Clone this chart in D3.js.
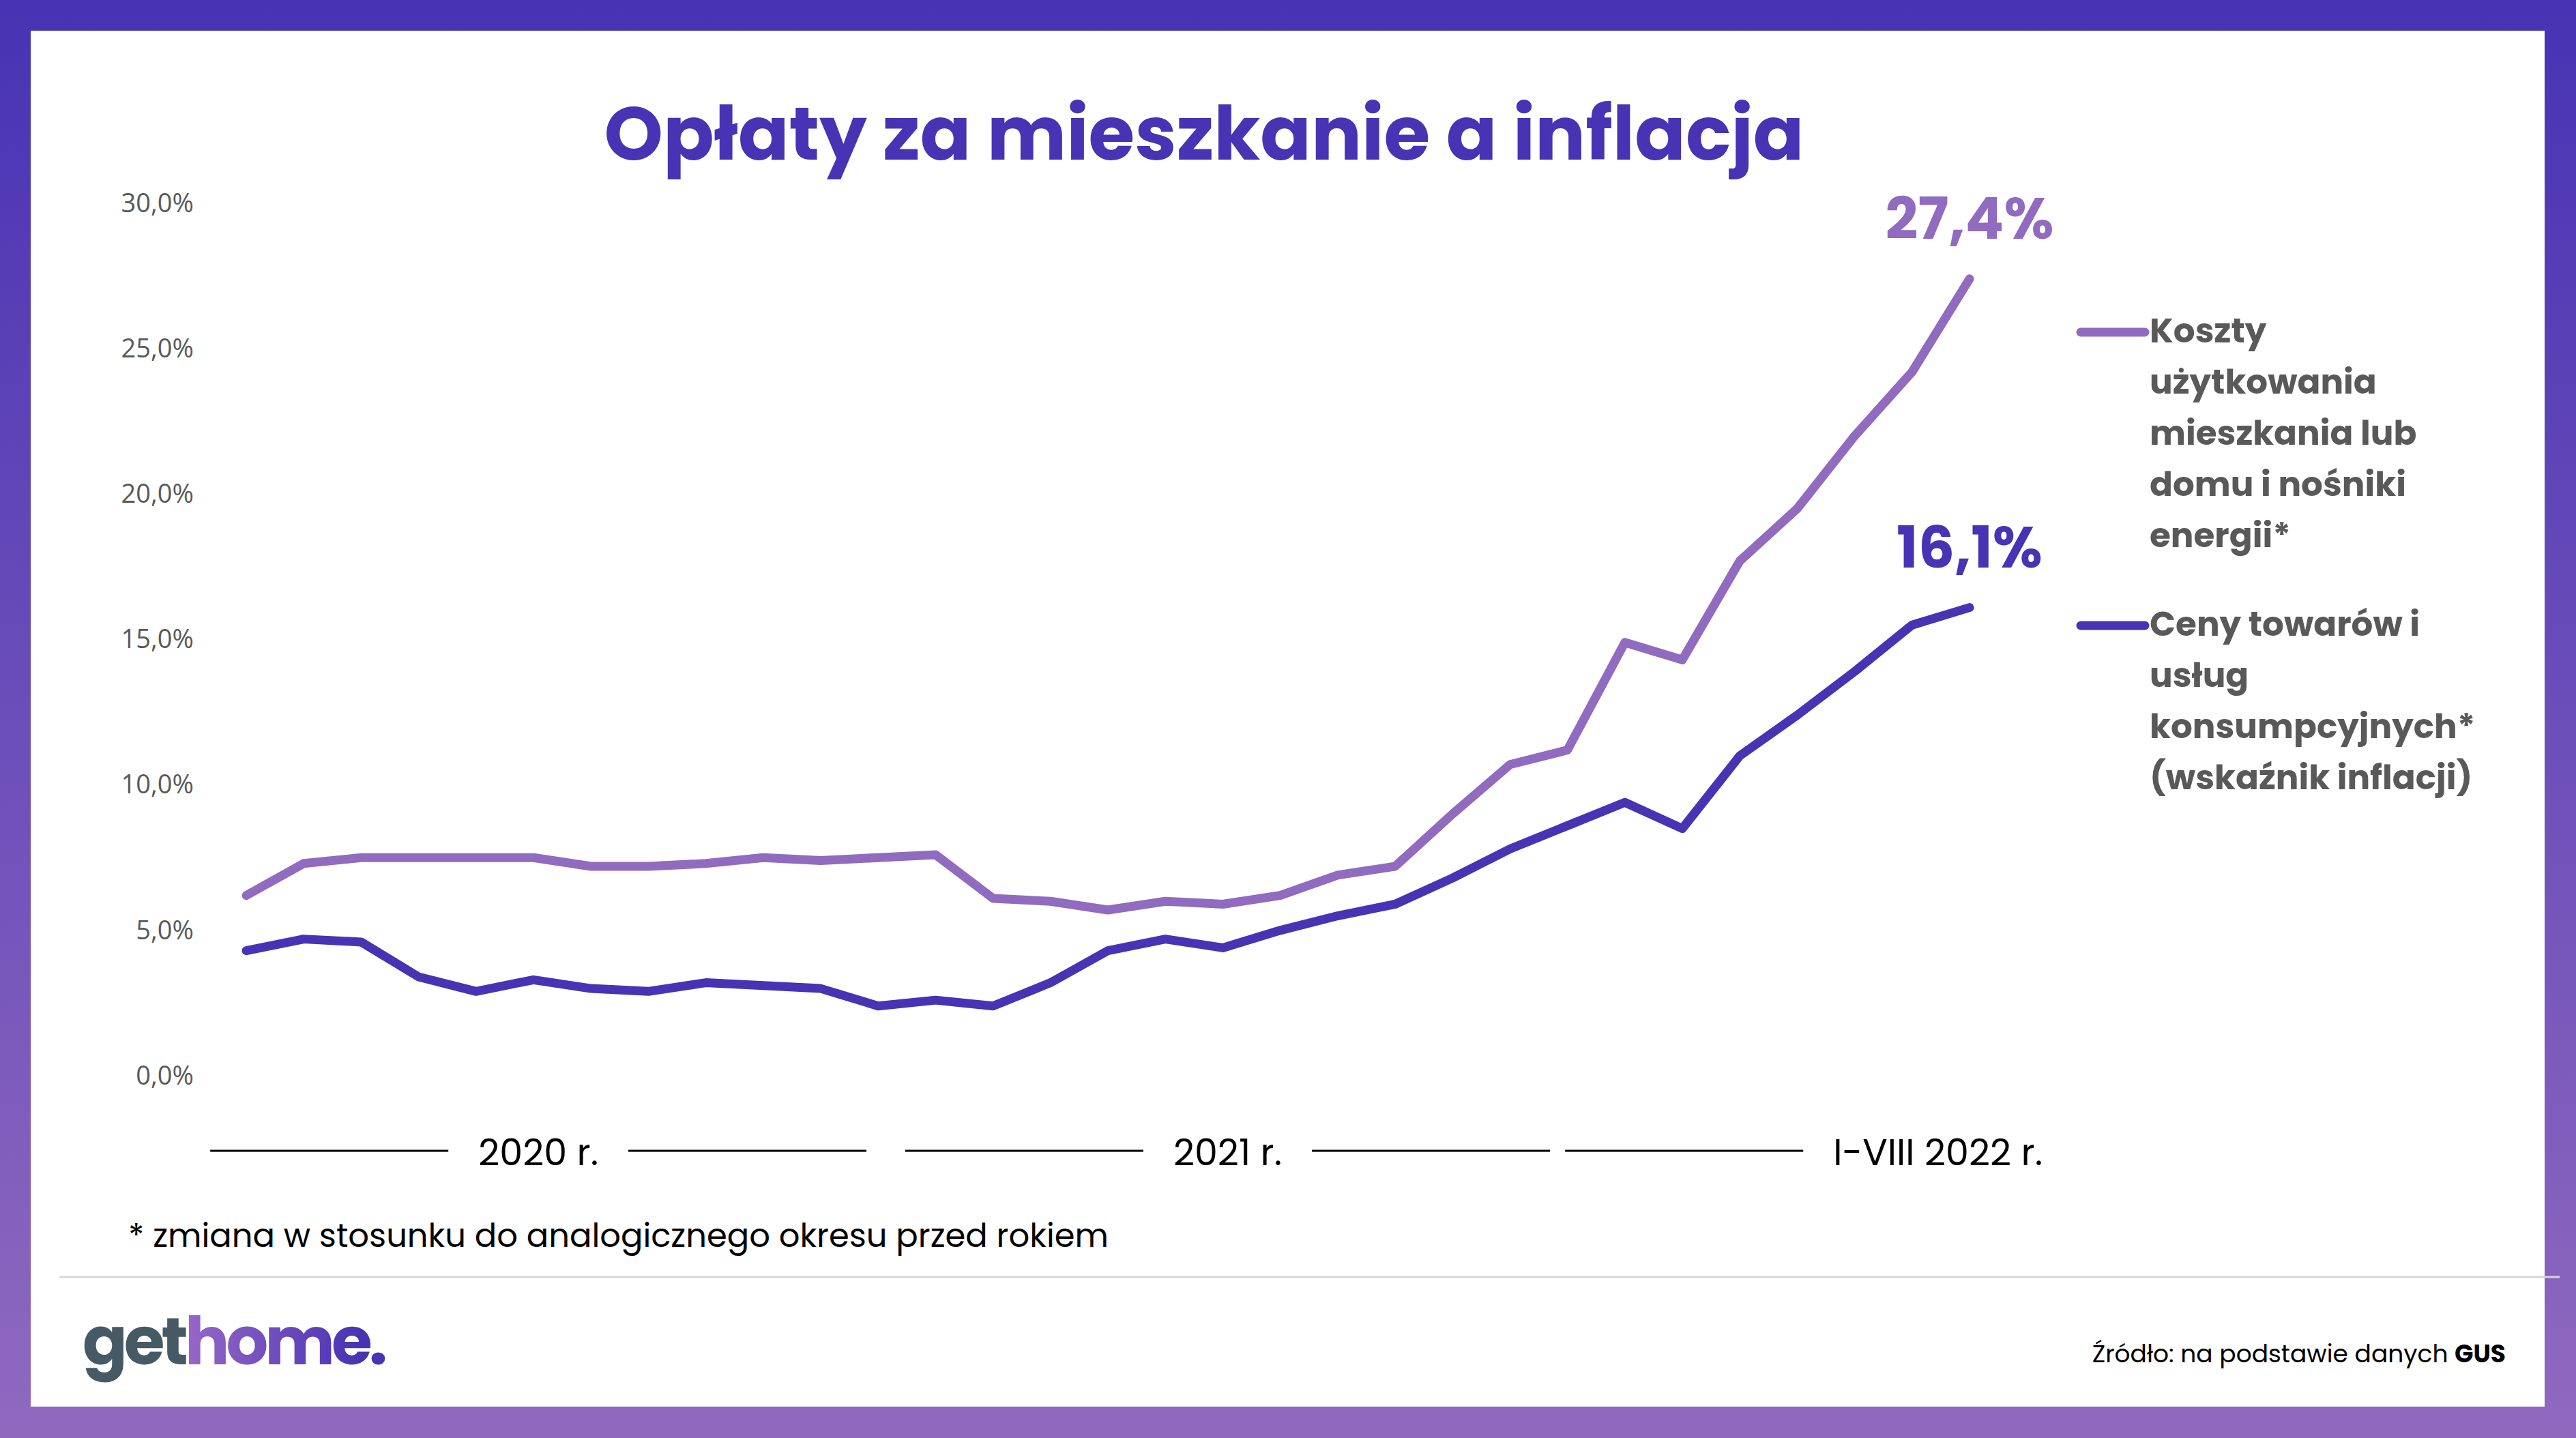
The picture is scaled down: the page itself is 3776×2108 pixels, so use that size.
<!DOCTYPE html>
<html>
<head>
<meta charset="utf-8">
<script src="https://cdn.jsdelivr.net/npm/d3@7"></script>
<style>
  body { margin: 0; background: #fff; }
  svg { display: block; }
</style>
</head>
<body>
<script>
// dane: zmiana r/r, %
var housing = [6.2, 7.3, 7.5, 7.5, 7.5, 7.5, 7.2, 7.2, 7.3, 7.5, 7.4, 7.5, 7.6, 6.1, 6.0, 5.7,
               6.0, 5.9, 6.2, 6.9, 7.2, 9.0, 10.7, 11.2, 14.9, 14.3, 17.7, 19.5, 22.0, 24.2, 27.4];
var inflation = [4.3, 4.7, 4.6, 3.4, 2.9, 3.3, 3.0, 2.9, 3.2, 3.1, 3.0, 2.4, 2.6, 2.4, 3.2, 4.3,
                 4.7, 4.4, 5.0, 5.5, 5.9, 6.8, 7.8, 8.6, 9.4, 8.5, 11.0, 12.4, 13.9, 15.5, 16.1];
var periods = ["2020 r.", "2021 r.", "I-VIII 2022 r."];
var periodRange = [[0, 11], [12, 23], [24, 30]];
var yTicks = [0, 5, 10, 15, 20, 25, 30];
var housingName = ["Koszty", "użytkowania", "mieszkania lub", "domu i nośniki", "energii*"];
var inflationName = ["Ceny towarów i", "usług", "konsumpcyjnych*", "(wskaźnik inflacji)"];

var W = 3776, H = 2108;
var dark = "#4733B3", light = "#906BC0", grey = "#595959";
var poppins = "Poppins, Inter, sans-serif";

var svg = d3.select("body").append("svg")
	.attr("width", W)
	.attr("height", H);

var defs = svg.append("defs");
var bg = defs.append("linearGradient").attr("id", "frame")
	.attr("x1", 0).attr("y1", 0).attr("x2", 0).attr("y2", 1);
bg.append("stop").attr("offset", 0).attr("stop-color", "#4733B3");
bg.append("stop").attr("offset", 1).attr("stop-color", "#9069BF");
var lg = defs.append("linearGradient").attr("id", "home")
	.attr("gradientUnits", "userSpaceOnUse")
	.attr("x1", 280).attr("y1", 0).attr("x2", 530).attr("y2", 0);
lg.append("stop").attr("offset", 0).attr("stop-color", "#9566C6");
lg.append("stop").attr("offset", 1).attr("stop-color", "#4733B3");

svg.append("rect").attr("width", W).attr("height", H).attr("fill", "url(#frame)");
svg.append("rect").attr("x", 45).attr("y", 45).attr("width", 3685).attr("height", 2017).attr("fill", "#fff");

// tytul
svg.append("text")
	.attr("x", 1765)
	.attr("y", 234)
	.attr("text-anchor", "middle")
	.attr("font-family", poppins)
	.attr("font-weight", 700)
	.attr("font-size", "110px")
	.attr("fill", dark)
	.text("Opłaty za mieszkanie a inflacja");

var x = d3.scaleLinear().domain([0, housing.length - 1]).range([361, 2887]);
var y = d3.scaleLinear().domain([0, 30]).range([1577, 298]);

// os Y
var yAxis = d3.axisLeft(y)
	.tickValues(yTicks)
	.tickSize(0)
	.tickPadding(0)
	.tickFormat(function(d) { return d3.format(".1f")(d).replace(".", ",") + "%"; });
var ya = svg.append("g")
	.attr("transform", "translate(284,0)")
	.call(yAxis);
ya.select(".domain").remove();
ya.selectAll("text")
	.attr("font-family", "'Open Sans', sans-serif")
	.attr("font-size", "38px")
	.attr("fill", grey);

// linie
var line = d3.line()
	.x(function(d, i) { return x(i); })
	.y(function(d) { return y(d); });

[[housing, light], [inflation, dark]].forEach(function(s) {
	svg.append("path")
		.datum(s[0])
		.attr("d", line)
		.attr("fill", "none")
		.attr("stroke", s[1])
		.attr("stroke-width", 13)
		.attr("stroke-linecap", "round")
		.attr("stroke-linejoin", "round");
	var last = s[0].length - 1;
	svg.append("text")
		.attr("x", x(last))
		.attr("y", y(s[0][last]) - 59)
		.attr("text-anchor", "middle")
		.attr("font-family", poppins)
		.attr("font-weight", 700)
		.attr("font-size", "84px")
		.attr("fill", s[1])
		.text(d3.format(".1f")(s[0][last]).replace(".", ",") + "%");
});

// legenda
[[housingName, light, 487], [inflationName, dark, 917]].forEach(function(s) {
	svg.append("line")
		.attr("x1", 3050).attr("x2", 3144)
		.attr("y1", s[2]).attr("y2", s[2])
		.attr("stroke", s[1])
		.attr("stroke-width", 13)
		.attr("stroke-linecap", "round");
	var t = svg.append("text")
		.attr("x", 3151)
		.attr("y", s[2] + 15)
		.attr("font-family", poppins)
		.attr("font-weight", 700)
		.attr("font-size", "50px")
		.attr("fill", grey);
	t.selectAll("tspan")
		.data(s[0])
		.enter()
		.append("tspan")
		.attr("x", 3151)
		.attr("dy", function(d, i) { return i ? 75 : 0; })
		.text(function(d) { return d; });
});

// okresy pod wykresem
var segLen = 349, gap = 44, baseY = 1708, lineY = 1687;
periods.forEach(function(p, k) {
	var r = periodRange[k];
	var last = k == periods.length - 1;
	var lbl = svg.append("text")
		.attr("x", last ? x(r[1]) + 107 : (x(r[0]) + x(r[1])) / 2 - 35)
		.attr("y", baseY)
		.attr("text-anchor", last ? "end" : "middle")
		.attr("font-family", poppins)
		.attr("font-size", "54px")
		.attr("fill", "#000")
		.text(p);
	var b = lbl.node().getBBox();
	var segs = [[b.x - gap - segLen, b.x - gap]];
	if (!last) segs.push([b.x + b.width + gap, b.x + b.width + gap + segLen]);
	segs.forEach(function(sg) {
		svg.append("line")
			.attr("x1", sg[0]).attr("x2", sg[1])
			.attr("y1", lineY).attr("y2", lineY)
			.attr("stroke", "#000")
			.attr("stroke-width", 3);
	});
});

svg.append("text")
	.attr("x", 188)
	.attr("y", 1828)
	.attr("font-family", poppins)
	.attr("font-size", "48px")
	.attr("fill", "#000")
	.text("* zmiana w stosunku do analogicznego okresu przed rokiem");

svg.append("line")
	.attr("x1", 87).attr("x2", 3752)
	.attr("y1", 1872).attr("y2", 1872)
	.attr("stroke", "#D6D6D6")
	.attr("stroke-width", 3);

// logo
var logo = svg.append("text")
	.attr("x", 121)
	.attr("y", 2000)
	.attr("font-family", poppins)
	.attr("font-weight", 700)
	.attr("font-size", "97px")
	.attr("letter-spacing", "-5px");
logo.append("tspan").attr("fill", "#455A64").text("get");
logo.append("tspan").attr("fill", "url(#home)").text("home");
logo.append("tspan").attr("fill", dark).text(".");

var src = svg.append("text")
	.attr("x", 3673)
	.attr("y", 1997)
	.attr("text-anchor", "end")
	.attr("font-family", poppins)
	.attr("font-size", "36px")
	.attr("fill", "#000");
src.append("tspan").text("Źródło: na podstawie danych ");
src.append("tspan").attr("font-weight", 700).text("GUS");
</script>
</body>
</html>
